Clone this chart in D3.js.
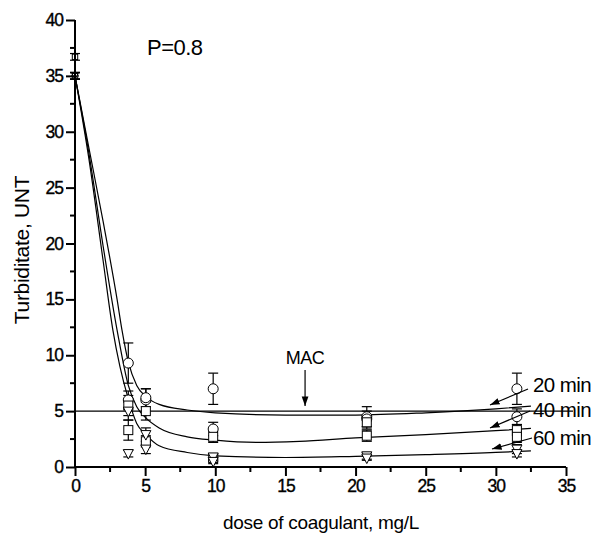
<!DOCTYPE html>
<html><head><meta charset="utf-8">
<script src="https://cdn.jsdelivr.net/npm/d3@7"></script>
<style>
body{margin:0;background:#fff;}
text{font-family:"Liberation Sans",Arial,sans-serif;fill:#000;}
</style></head>
<body><svg id="c" width="596" height="538"></svg>
<script>
// ---- data ----
const doses = [0, 3.8, 5.05, 9.85, 20.8, 31.5];
// 20 min (circles), two replicates
const t20a = [35.0, 9.3, 6.0, 7.0, 4.5, 7.0];
const e20a = [0.3, 1.8, 1.0, 1.4, 0.9, 1.4];
const t20b = [35.0, 6.0, 6.2, 3.4, 4.3, 4.5];
const e20b = [0.3, 0.8, 0.8, 0.6, 0.7, 0.7];
// 40 min (squares)
const t40a = [36.7, 5.5, 5.0, 2.7, 2.8, 3.3];
const e40a = [0.3, 0.9, 0.8, 0.5, 0.5, 0.5];
const t40b = [35.0, 3.3, 2.3, 0.8, 4.0, 2.7];
const e40b = [0.3, 0.9, 0.5, 0.3, 0.6, 0.5];
// 60 min (down triangles)
const t60a = [35.0, 5.0, 2.9, 0.9, 1.0, 1.6];
const e60a = [0.3, 0.8, 0.6, 0.3, 0.3, 0.4];
const t60b = [35.0, 1.2, 1.6, 0.5, 0.8, 1.2];
const e60b = [0.3, 0.3, 0.4, 0.2, 0.2, 0.3];
// fitted curves
const fitX20 = [0, 1, 2, 3, 3.35, 3.8, 4.4, 5.05, 6, 8, 10, 15, 20, 25, 30, 32.5];
const fitY20 = [35, 28.5, 22, 15, 12.25, 9.4, 7.3, 6.3, 5.6, 5.1, 4.85, 4.65, 4.65, 4.85, 5.2, 5.45];
const fitX40 = [0, 1, 2, 3, 3.8, 4.4, 5.05, 6, 8, 10, 13, 16, 20, 25, 30, 32.5];
const fitY40 = [35, 28, 19.8, 12.25, 7.3, 5.4, 4.4, 3.5, 2.7, 2.4, 2.2, 2.3, 2.6, 2.9, 3.25, 3.45];
const fitX60 = [0, 1, 2, 2.7, 3.2, 3.8, 4.4, 5.05, 6, 8, 10, 15, 20, 25, 30, 32.5];
const fitY60 = [35, 27.5, 18.5, 12.25, 9.0, 6.1, 3.9, 2.9, 1.9, 1.3, 1.0, 0.85, 0.95, 1.1, 1.3, 1.45];
const macLevel = 5;
const macDose = 16.4;
const xTicks = [0, 5, 10, 15, 20, 25, 30, 35];
const yTicks = [0, 5, 10, 15, 20, 25, 30, 35, 40];
const curveLabels = ["20 min", "40 min", "60 min"];

// ---- layout ----
const svg = d3.select("#c");
const x = d3.scaleLinear().domain([0, 35]).range([75, 566]);
const y = d3.scaleLinear().domain([0, 40]).range([467, 20]);

// MAC line
svg.append("line").attr("x1", x(0)).attr("x2", x(35.5)).attr("y1", y(macLevel)).attr("y2", y(macLevel))
  .attr("stroke", "#000").attr("stroke-width", 1.2);

// curves
const lineGen = d3.line().x(d => x(d[0])).y(d => y(d[1])).curve(d3.curveMonotoneX);
[[fitX20, fitY20], [fitX40, fitY40], [fitX60, fitY60]].forEach(([xs, ys]) => {
  svg.append("path").datum(xs.map((v, i) => [v, ys[i]])).attr("d", lineGen)
    .attr("fill", "none").attr("stroke", "#000").attr("stroke-width", 1.2);
});

// error bars + markers
const sets = [
  [t20a, e20a, "circle"], [t20b, e20b, "circle"],
  [t40a, e40a, "square"], [t40b, e40b, "square"],
  [t60a, e60a, "tri"], [t60b, e60b, "tri"]
];
const g = svg.append("g");
sets.forEach(([vals, errs, shape]) => {
  vals.forEach((v, i) => {
    const cx = x(doses[i]);
    const y1 = y(v + errs[i]), y2 = y(v - errs[i]);
    g.append("line").attr("x1", cx).attr("x2", cx).attr("y1", y1).attr("y2", y2).attr("stroke", "#000").attr("stroke-width", 1.2);
    [y1, y2].forEach(yy => g.append("line").attr("x1", cx - 5).attr("x2", cx + 5).attr("y1", yy).attr("y2", yy).attr("stroke", "#000").attr("stroke-width", 1.2));
  });
});
sets.forEach(([vals, errs, shape]) => {
  vals.forEach((v, i) => {
    const cx = x(doses[i]), cy = y(v);
    const small = i === 0 ? 0.6 : 1;
    if (shape === "circle") {
      g.append("circle").attr("cx", cx).attr("cy", cy).attr("r", 5 * small).attr("fill", "#fff").attr("stroke", "#000").attr("stroke-width", 1);
    } else if (shape === "square") {
      g.append("rect").attr("x", cx - 4.5 * small).attr("y", cy - 4.5 * small).attr("width", 9 * small).attr("height", 9 * small).attr("fill", "#fff").attr("stroke", "#000").attr("stroke-width", 1);
    } else {
      const s = 5 * small;
      g.append("path").attr("d", `M${cx - s},${cy - s * 0.8}L${cx + s},${cy - s * 0.8}L${cx},${cy + s * 1.1}Z`).attr("fill", "#fff").attr("stroke", "#000").attr("stroke-width", 1);
    }
  });
});

// axes
const xAxis = d3.axisBottom(x).tickValues(xTicks).tickSize(9).tickPadding(2).tickFormat(d3.format("d"));
const yAxis = d3.axisLeft(y).tickValues(yTicks).tickSize(9).tickPadding(3).tickFormat(d3.format("d"));
const gx = svg.append("g").attr("transform", `translate(0,${y(0)})`).call(xAxis);
const gy = svg.append("g").attr("transform", `translate(${x(0)},0)`).call(yAxis);
[gx, gy].forEach(a => {
  a.select(".domain").attr("stroke-width", 2);
  a.selectAll(".tick line").attr("stroke-width", 2);
  a.selectAll(".tick text").attr("font-size", 17.5).attr("letter-spacing", "-1")
    .attr("stroke", "#000").attr("stroke-width", 0.35)
    .attr("font-family", "Liberation Sans, Arial, sans-serif");
});
gx.select(".domain").attr("d", `M${x(0)},0H${x(35)}`);
gy.select(".domain").attr("d", `M0,${y(0)}V${y(40)}`);
gx.selectAll(".tick text").attr("dy", "0.8em");
// minor ticks
const minorX = xTicks.slice(0, -1).map(d => d + 2.5);
const minorY = yTicks.slice(0, -1).map(d => d + 2.5);
gx.selectAll(".mt").data(minorX).enter().append("line").attr("x1", d => x(d)).attr("x2", d => x(d)).attr("y1", 0).attr("y2", 5).attr("stroke", "#000").attr("stroke-width", 2);
gy.selectAll(".mt").data(minorY).enter().append("line").attr("y1", d => y(d)).attr("y2", d => y(d)).attr("x1", 0).attr("x2", -5).attr("stroke", "#000").attr("stroke-width", 2);

// titles
svg.append("text").attr("x", 321).attr("y", 529).attr("text-anchor", "middle").attr("font-size", 19).attr("letter-spacing", "-0.3").text("dose of coagulant, mg/L");
svg.append("text").attr("transform", "translate(29,250) rotate(-90)").attr("text-anchor", "middle").attr("font-size", 21).attr("letter-spacing", "-0.3").text("Turbiditate, UNT");
svg.append("text").attr("x", 147).attr("y", 55).attr("font-size", 22).attr("letter-spacing", "-0.5").text("P=0.8");

// MAC annotation
const defs = svg.append("defs");
defs.append("marker").attr("id", "ah").attr("viewBox", "0 0 10 10").attr("refX", 10).attr("refY", 5)
  .attr("markerWidth", 8).attr("markerHeight", 8).attr("orient", "auto-start-reverse")
  .append("path").attr("d", "M0,1.5L10,5L0,8.5Z").attr("fill", "#000");
svg.append("text").attr("x", x(macDose)).attr("y", 364).attr("text-anchor", "middle").attr("font-size", 18).attr("letter-spacing", "-0.5").text("MAC");
svg.append("line").attr("x1", x(macDose)).attr("x2", x(macDose)).attr("y1", 370).attr("y2", 406)
  .attr("stroke", "#000").attr("stroke-width", 1.2).attr("marker-end", "url(#ah)");

// curve labels with arrows
const labY = [392, 417, 445];
const arrows = [[528, 389, 490, 405], [530, 411, 490, 428], [532, 438, 492, 449]];
curveLabels.forEach((t, i) => {
  svg.append("text").attr("x", 533).attr("y", labY[i]).attr("font-size", 20.5).attr("letter-spacing", "-0.6").text(t);
  const a = arrows[i];
  svg.append("line").attr("x1", a[0]).attr("y1", a[1]).attr("x2", a[2]).attr("y2", a[3])
    .attr("stroke", "#000").attr("stroke-width", 1.2).attr("marker-end", "url(#ah)");
});
</script></body></html>
